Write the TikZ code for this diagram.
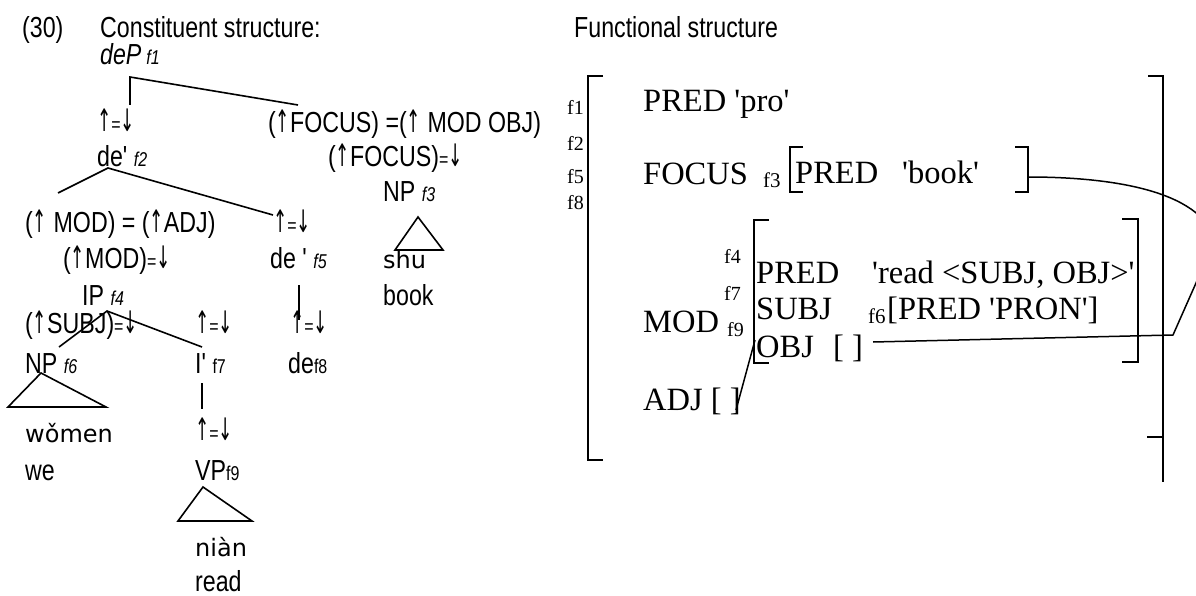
\documentclass[tikz,border=0pt]{standalone}
\usepackage{fontspec}
\setmainfont[FakeStretch=0.8,Ligatures=TeXOff]{Liberation Sans}
\newfontfamily\tnr[Ligatures=TeXOff]{Liberation Serif}
\newfontfamily\pinyin{DejaVu Sans}
\newfontfamily\arrowf[FakeStretch=0.55]{DejaVu Sans}
% sizes
\newcommand\lsz{\fontsize{29}{29}\selectfont}
\newcommand\sub[1]{{\fontsize{20}{20}\selectfont\itshape #1}}
\newcommand\subup[1]{{\fontsize{20}{20}\selectfont #1}}
\newcommand\eqs{{\fontsize{20}{20}\selectfont=}}
\newcommand\up{{\arrowf\fontsize{31}{31}\selectfont ↑}}
\newcommand\dn{{\arrowf\fontsize{31}{31}\selectfont ↓}}
\newcommand\ud{\up\eqs\dn}
\newcommand\fsz{\tnr\fontsize{32.5}{32.5}\selectfont}
\begin{document}
\begin{tikzpicture}[x=1pt,y=-1pt,
  txt/.style={inner sep=0pt, anchor=base west, font=\lsz},
  ftxt/.style={inner sep=0pt, anchor=base west, font=\fsz},
  flab/.style={inner sep=0pt, anchor=base west, font=\tnr\fontsize{20}{20}\selectfont},
  pin/.style={inner sep=0pt, anchor=base west, font=\pinyin\fontsize{24}{24}\selectfont},
  branch/.style={line width=1.6pt},
  brk/.style={line width=1.6pt},
  link/.style={line width=1.5pt}]
\useasboundingbox (0,0) rectangle (1196,596);
\clip (0,0) rectangle (1196,596);

% ---------------- constituent structure ----------------
\node[txt] (ex) at (22,38) {(30)};
\node[txt] (cs) at (100,38) {Constituent structure:};
\node[txt] (deP) at (100,65) {\itshape deP\,\sub{f1}};

\node[txt] (ud1) at (97,132) {\ud};
\node[txt] (focA) at (268,133) {(\up FOCUS) =(\up{} MOD OBJ)};
\node[txt] (de2) at (97,167) {de' \sub{f2}};
\node[txt] (focB) at (328,167) {(\up FOCUS)\eqs\dn};
\node[txt] (np3) at (383,202) {NP \sub{f3}};
\node[pin] (shu) at (383,268) {shu};
\node[txt] (book) at (383,305) {book};

\node[txt] (modA) at (25,232) {(\up{} MOD) = (\up ADJ)};
\node[txt] (ud2) at (273,232) {\ud};
\node[txt] (modB) at (63,268) {(\up MOD)\eqs\dn};
\node[txt] (de5) at (270,268) {de ' \sub{f5}};
\node[txt] (ip4) at (82,305) {IP \sub{f4}};

\node[txt] (subj) at (25,333) {(\up SUBJ)\eqs\dn};
\node[txt] (ud3) at (195,333) {\ud};
\node[txt] (ud4) at (290,333) {\ud};
\node[txt] (np6) at (25,373) {NP \sub{f6}};
\node[txt] (ib7) at (195,373) {I' \subup{f7}};
\node[txt] (de8) at (288,373) {de\subup{f8}};

\node[pin] (women) at (25,442) {wǒmen};
\node[txt] (we) at (25,480) {we};
\node[txt] (ud5) at (195,440) {\ud};
\node[txt] (vp9) at (195,480) {VP\subup{f9}};
\node[pin] (nian) at (195,556) {niàn};
\node[txt] (read) at (195,591) {read};

% branch points
\coordinate (dePb) at (130,77);
\coordinate (dePl) at (130,105);
\coordinate (dePr) at (298,105);
\coordinate (de2b) at (108,168);
\coordinate (de2l) at (58,193);
\coordinate (de2r) at (273,215);
\coordinate (t3a) at (418,217);
\coordinate (t3l) at (395,250);
\coordinate (t3r) at (443,250);
\coordinate (de5b) at (299,285);
\coordinate (de5d) at (299,320);
\coordinate (ip4b) at (107,311);
\coordinate (ip4l) at (59,347);
\coordinate (ip4r) at (202,347);
\coordinate (t6a) at (41,373);
\coordinate (t6l) at (8,407);
\coordinate (t6r) at (106,407);
\coordinate (ib7b) at (202,383);
\coordinate (ib7d) at (202,409);
\coordinate (t9a) at (203,487);
\coordinate (t9l) at (178,521);
\coordinate (t9r) at (252,521);

\draw[branch] (dePl) -- (dePb) -- (dePr);
\draw[branch] (de2l) -- (de2b) -- (de2r);
\draw[branch] (t3a) -- (t3l) -- (t3r) -- cycle;
\draw[branch] (de5b) -- (de5d);
\draw[branch] (ip4l) -- (ip4b) -- (ip4r);
\draw[branch] (t6a) -- (t6l) -- (t6r) -- cycle;
\draw[branch] (ib7b) -- (ib7d);
\draw[branch] (t9a) -- (t9l) -- (t9r) -- cycle;

% ---------------- functional structure ----------------
\node[txt] (fs) at (574,38) {Functional structure};

\node[flab] (f1) at (567,115) {f1};
\node[flab] (f2) at (567,151) {f2};
\node[flab] (f5) at (567,184) {f5};
\node[flab] (f8) at (567,209) {f8};

\node[ftxt] (predpro) at (643,112) {PRED 'pro'};
\node[ftxt] (focus) at (643,185) {FOCUS};
\node[flab, font=\tnr\fontsize{21}{21}\selectfont] (f3) at (763,188) {f3};
\node[ftxt] (predb) at (795,184) {PRED};
\node[ftxt] (book2) at (902,184) {'book'};

\node[flab] (f4) at (724,263) {f4};
\node[flab] (f7) at (724,300) {f7};
\node[flab] (f9) at (727,336) {f9};
\node[ftxt] (mod) at (643,332) {MOD};
\node[ftxt] (predr) at (756,283) {PRED};
\node[ftxt] (readv) at (872,283) {'read <SUBJ, OBJ>'};
\node[ftxt] (subjf) at (756,319) {SUBJ};
\node[flab, font=\tnr\fontsize{21}{21}\selectfont] (f6) at (868,323) {f6};
\node[ftxt] (pron) at (887,319) {[PRED 'PRON']};
\node[ftxt] (obj) at (756,357) {OBJ};
\node[ftxt] (objv) at (833,357) {[ ]};
\node[ftxt] (adj) at (643,410) {ADJ [ ]};

% outer brackets
\draw[brk] (603,76) -- (588,76) -- (588,460) -- (603,460);
\draw[brk] (1148,76) -- (1163,76) -- (1163,482);
\draw[brk] (1147,437) -- (1163,437);
% focus brackets
\coordinate (fbr) at (1028,177);
\draw[brk] (803,147) -- (790,147) -- (790,192) -- (803,192);
\draw[brk] (1015,147) -- (1028,147) -- (1028,192) -- (1015,192);
% mod brackets
\draw[brk] (769,220) -- (754,220) -- (754,363) -- (769,363);
\draw[brk] (1122,219) -- (1138,219) -- (1138,362) -- (1122,362);

% structure sharing line
\coordinate (bend1) at (1215,240);
\coordinate (bend2) at (1173,335);
\coordinate (objend) at (873,342);
\draw[link] (fbr) .. controls (1110,177) and (1200,190) .. (bend1) -- (bend2) -- (objend);
% ADJ / OBJ line
\coordinate (objl) at (755,340);
\coordinate (adjr) at (736,410);
\draw[link] (objl) -- (adjr);
\end{tikzpicture}
\end{document}
